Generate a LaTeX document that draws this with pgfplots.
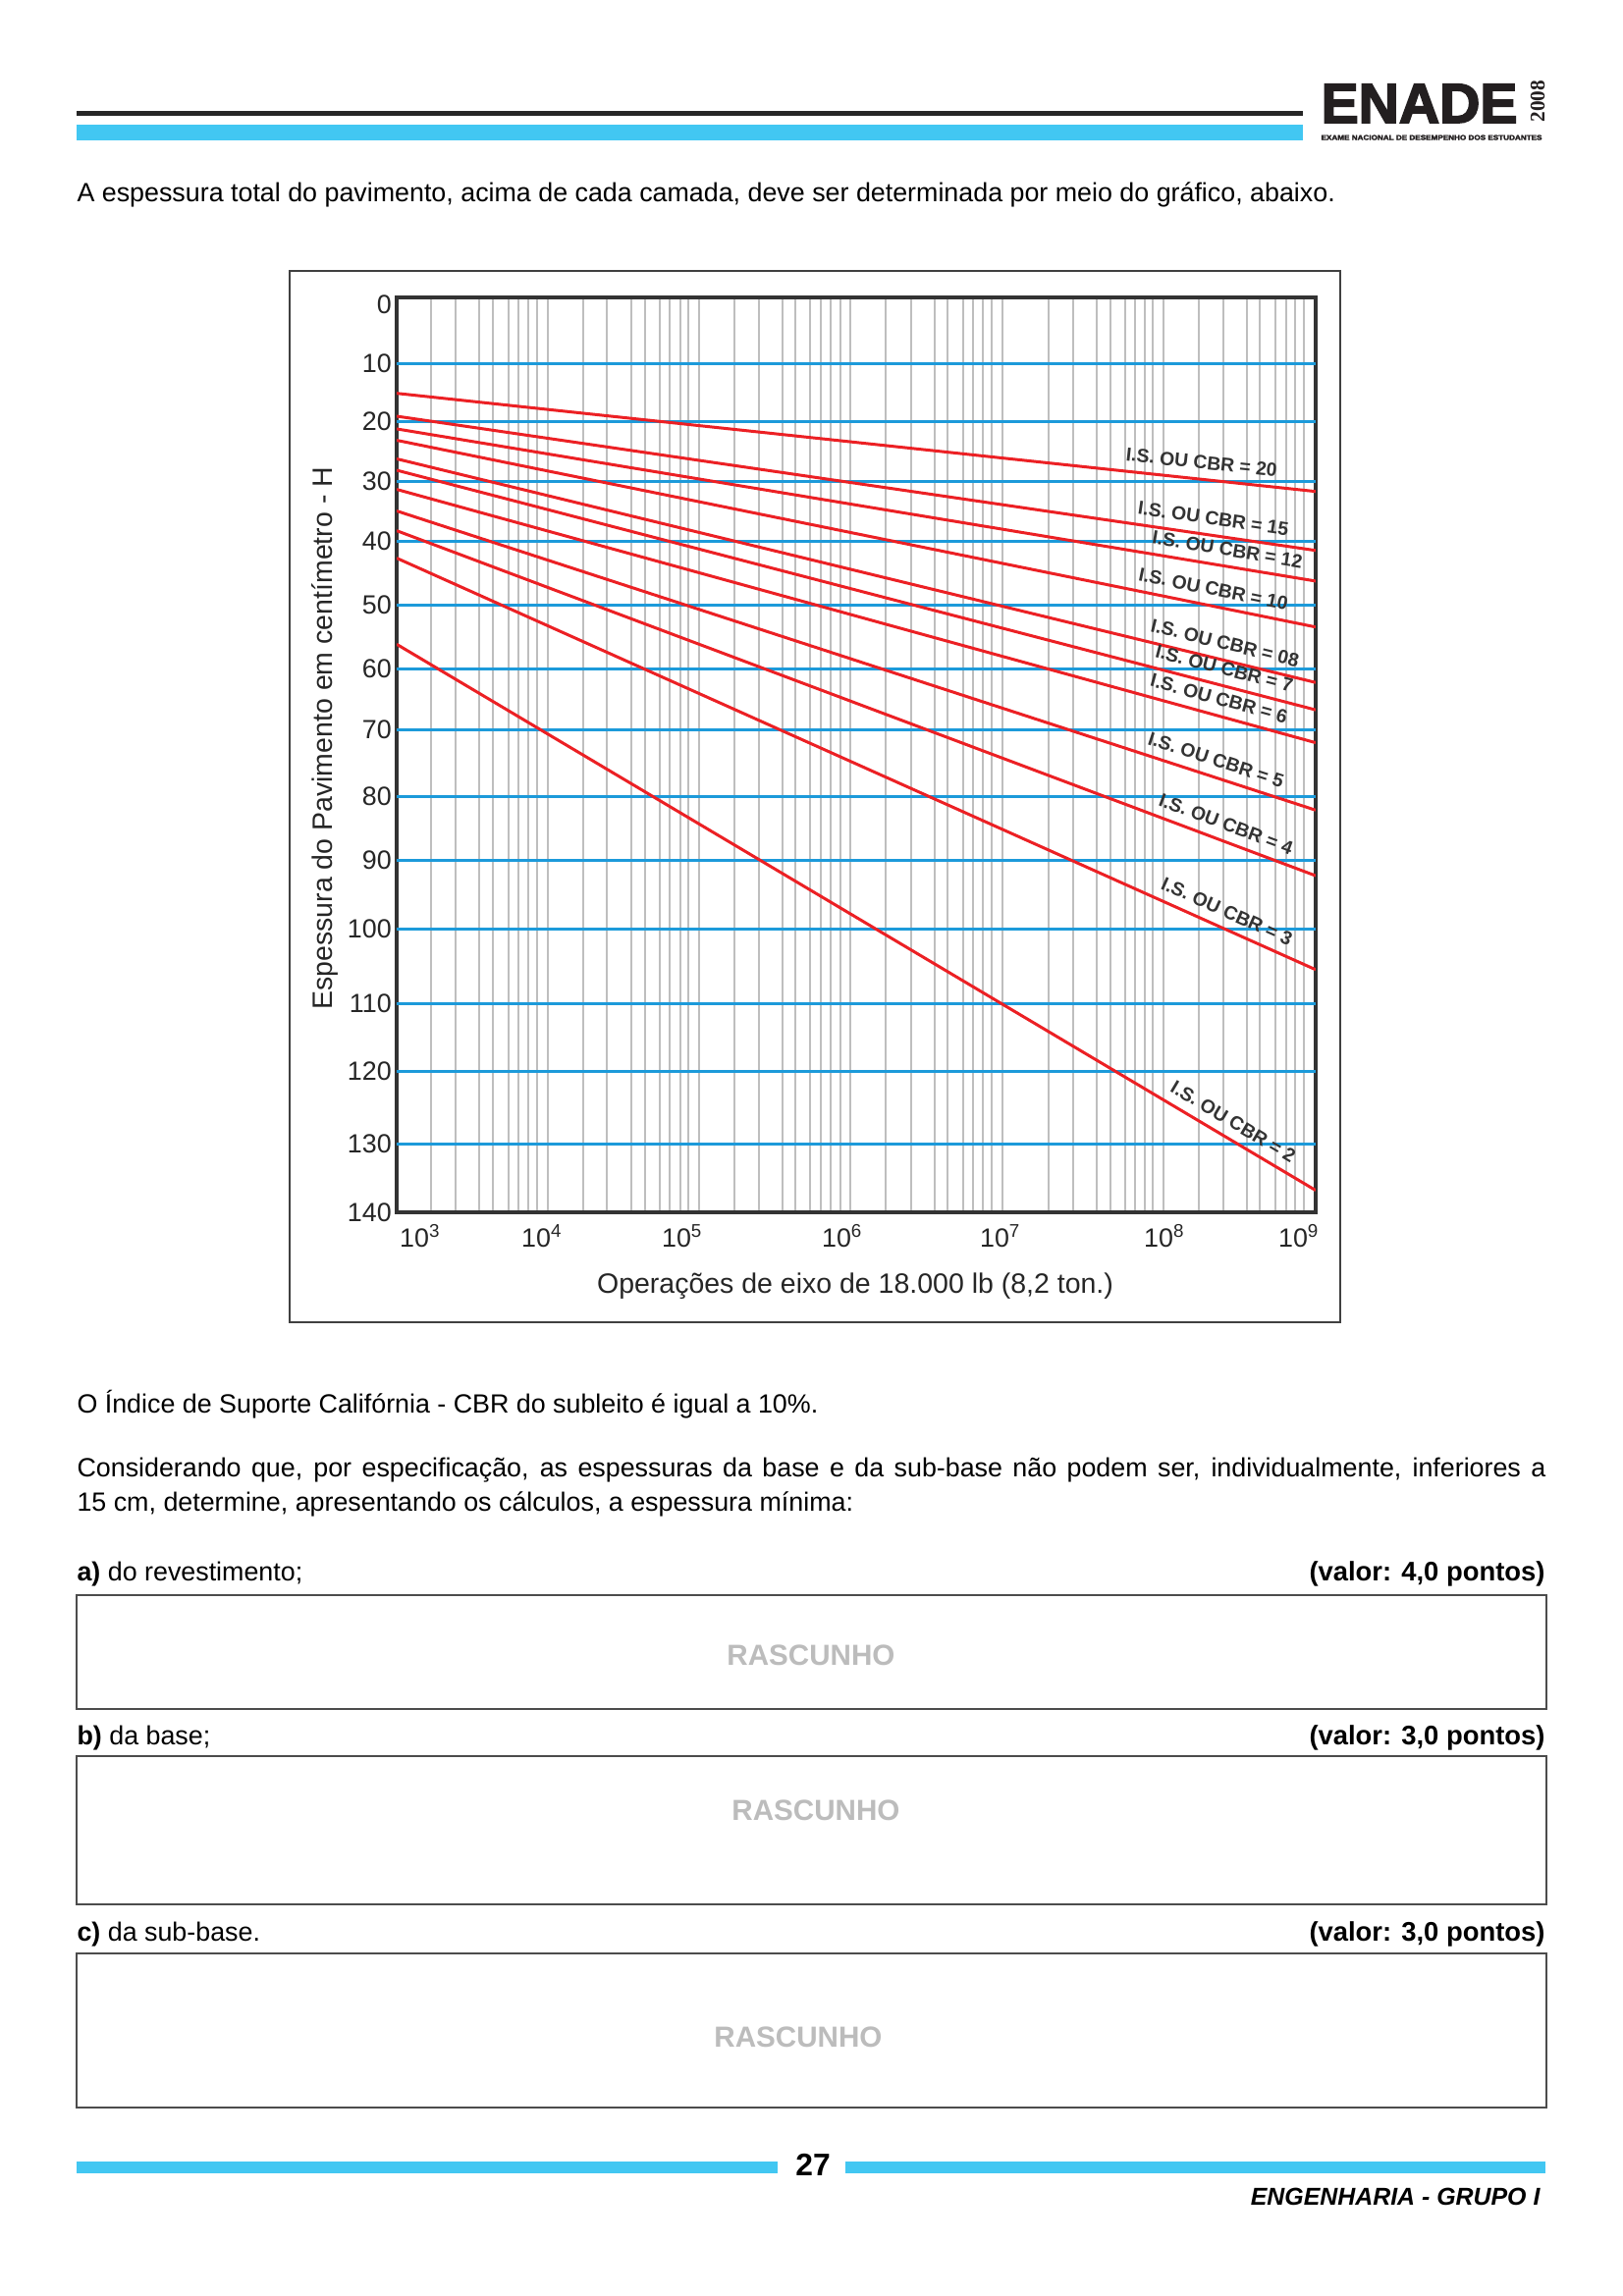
\documentclass[border=0pt]{standalone}
\usepackage{pgfplots}
\pgfplotsset{compat=1.18}
\usepackage{fontspec}
\usepackage{graphicx}
\setmainfont{Liberation Sans}
\newfontfamily\serifbf{Liberation Serif}
\newfontfamily\heavy{Liberation Sans Bold}[FakeBold=3]
\definecolor{cyanbar}{RGB}{66,199,242}
\definecolor{gridblue}{RGB}{28,154,218}
\definecolor{cbrred}{RGB}{236,32,36}
\definecolor{vgray}{RGB}{190,190,190}
\definecolor{rasc}{RGB}{188,188,188}
\definecolor{logo}{RGB}{35,31,32}
\newcommand{\fs}[1]{\fontsize{#1}{#1}\selectfont}
\tikzset{lbl/.style={sloped, above=3.2pt, inner sep=0pt, font=\fs{7}\bfseries, text=black!80},
  cbr/.style={cbrred, line width=0.38mm}}
\begin{document}
\begin{tikzpicture}
\begin{scope}[x=0.12704mm,y=-0.12704mm]
\fill[white] (0,0) rectangle (1653,2339);
% header
\fill[black!85] (78,112.5) rectangle (1327,117.5);
\fill[cyanbar] (78,127) rectangle (1327,143);
\node[anchor=base west,inner sep=0pt,text=logo] at (1345,125) {\resizebox{25.4mm}{!}{\fs{21.6}\heavy ENADE}};
\node[anchor=base west,inner sep=0pt,rotate=90,text=logo] at (1573,125) {\serifbf\fs{7.7}\bfseries 2008};
\node[anchor=north west,inner sep=0pt,text=logo] at (1345,137) {\resizebox{28.58mm}{0.64mm}{\heavy EXAME NACIONAL DE DESEMPENHO DOS ESTUDANTES}};
\node[anchor=base west,inner sep=0pt] at (78,205) {\fs{9.7}A espessura total do pavimento, acima de cada camada, deve ser determinada por meio do gráfico, abaixo.};
% chart frame
\draw[black!75,line width=0.35mm] (295,276) rectangle (1365,1347);
% text below chart
\node[anchor=base west,inner sep=0pt] at (78,1439) {\fs{9.7}O Índice de Suporte Califórnia - CBR do subleito é igual a 10\%.};
\node[anchor=base west,inner sep=0pt] at (78,1504) {\fs{9.7}\makebox[190.05mm][s]{Considerando que, por especificação, as espessuras da base e da sub-base não podem ser, individualmente, inferiores a}};
\node[anchor=base west,inner sep=0pt] at (78,1539) {\fs{9.7}15 cm, determine, apresentando os cálculos, a espessura mínima:};
\node[anchor=base west,inner sep=0pt] at (78,1610) {\fs{9.7}{\bfseries a)} do revestimento;};
\node[anchor=base east,inner sep=0pt] at (1574,1610) {\fs{9.9}\bfseries (valor: 4,0 pontos)};
\node[anchor=base west,inner sep=0pt] at (78,1777) {\fs{9.7}{\bfseries b)} da base;};
\node[anchor=base east,inner sep=0pt] at (1574,1777) {\fs{9.9}\bfseries (valor: 3,0 pontos)};
\node[anchor=base west,inner sep=0pt] at (78,1977) {\fs{9.7}{\bfseries c)} da sub-base.};
\node[anchor=base east,inner sep=0pt] at (1574,1977) {\fs{9.9}\bfseries (valor: 3,0 pontos)};
\draw[black!70,line width=0.3mm] (78,1625) rectangle (1575,1741);
\draw[black!70,line width=0.3mm] (78,1789) rectangle (1575,1940);
\draw[black!70,line width=0.3mm] (78,1990) rectangle (1575,2147);
\node[text=rasc,inner sep=0pt] at (826,1686) {\fs{10.7}\bfseries RASCUNHO};
\node[text=rasc,inner sep=0pt] at (831,1844) {\fs{10.7}\bfseries RASCUNHO};
\node[text=rasc,inner sep=0pt] at (813,2075) {\fs{10.7}\bfseries RASCUNHO};
% footer
\fill[cyanbar] (78,2202) rectangle (792,2214);
\fill[cyanbar] (861,2202) rectangle (1574,2214);
\node[inner sep=0pt] at (828,2205) {\fs{11.5}\bfseries 27};
\node[anchor=base east,inner sep=0pt] at (1569,2246) {\fs{9}\bfseries\itshape ENGENHARIA - GRUPO I};
\end{scope}
\begin{axis}[
  at={(51.324mm,-156.894mm)}, anchor=south west,
  scale only axis, width=118.909mm, height=118.401mm,
  xmin=3, xmax=9, ymin=-1.1667, ymax=140,
  y dir=reverse,
  y coord trafo/.code={\pgfmathparse{310+6*min(#1,10)+5.9*min(max(#1-10,0),10)+6.1*min(max(#1-20,0),10)+6.1*min(max(#1-30,0),10)+6.5*min(max(#1-40,0),10)+6.5*min(max(#1-50,0),10)+6.2*min(max(#1-60,0),10)+6.8*min(max(#1-70,0),10)+6.5*min(max(#1-80,0),10)+7.0*min(max(#1-90,0),10)+7.6*min(max(#1-100,0),10)+6.9*min(max(#1-110,0),10)+7.4*min(max(#1-120,0),10)+7.0*min(max(#1-130,0),10)}},
  axis line style={black!80, line width=0.42mm},
  major tick length=0pt, minor tick length=0pt,
  xtick={3.154,3.949,4.865,5.910,6.942,8.013,8.891},
  xticklabels={10\textsuperscript{3},10\textsuperscript{4},10\textsuperscript{5},10\textsuperscript{6},10\textsuperscript{7},10\textsuperscript{8},10\textsuperscript{9}},
  minor xtick={3.224,3.385,3.538,3.628,3.731,3.795,3.859,3.917,3.987,
    4.218,4.372,4.532,4.622,4.718,4.782,4.853,4.904,4.974,
    5.205,5.365,5.519,5.603,5.699,5.769,5.833,5.897,5.962,
    6.192,6.359,6.513,6.596,6.699,6.763,6.827,6.885,6.955,
    7.256,7.417,7.571,7.660,7.756,7.821,7.885,7.936,8.006,
    8.237,8.397,8.551,8.635,8.737,8.808,8.865,8.923},
  xminorgrids=true,
  minor grid style={vgray, line width=0.25mm},
  ytick={0,10,20,30,40,50,60,70,80,90,100,110,120,130,140},
  yticklabels={0,10,20,30,40,50,60,70,80,90,100,110,120,130,140},
  extra y ticks={10,20,30,40,50,60,70,80,90,100,110,120,130},
  extra y tick labels={},
  extra y tick style={grid=major, major grid style={gridblue, line width=0.38mm}},
  yticklabel style={font=\fs{9.7}, text=black!85, inner sep=0.6mm},
  xticklabel style={font=\fs{9.7}, text=black!85, inner sep=0pt, yshift=-1.5mm},
  xlabel={Operações de eixo de 18.000 lb (8,2 ton.)},
  ylabel={Espessura do Pavimento em centímetro - H},
  xlabel style={font=\fs{10.3}, text=black!85, at={(axis description cs:0.499,-0.0805)}, anchor=center},
  ylabel style={font=\fs{10.3}, text=black!85, at={(axis description cs:-0.078,0.518)}, anchor=center},
]
\addplot[cbr] coordinates {(3,15.2) (9,31.75)} node[lbl,pos=0.874] {I.S. OU CBR = 20};
\addplot[cbr] coordinates {(3,19.15) (9,41.5)} node[lbl,pos=0.886] {I.S. OU CBR = 15};
\addplot[cbr] coordinates {(3,21.3) (9,46.3)} node[lbl,pos=0.901] {I.S. OU CBR = 12};
\addplot[cbr] coordinates {(3,23.2) (9,53.5)} node[lbl,pos=0.885] {I.S. OU CBR = 10};
\addplot[cbr] coordinates {(3,26.3) (9,62.3)} node[lbl,pos=0.897] {I.S. OU CBR = 08};
\addplot[cbr] coordinates {(3,28.2) (9,66.8)} node[lbl,pos=0.896] {I.S. OU CBR = 7};
\addplot[cbr] coordinates {(3,31.4) (9,72.0)} node[lbl,pos=0.890] {I.S. OU CBR = 6};
\addplot[cbr] coordinates {(3,35.0) (9,82.2)} node[lbl,pos=0.886] {I.S. OU CBR = 5};
\addplot[cbr] coordinates {(3,38.3) (9,92.3)} node[lbl,pos=0.896] {I.S. OU CBR = 4};
\addplot[cbr] coordinates {(3,42.7) (9,105.5)} node[lbl,pos=0.896] {I.S. OU CBR = 3};
\addplot[cbr] coordinates {(3,56.2) (9,136.8)} node[lbl,pos=0.901] {I.S. OU CBR = 2};
\end{axis}
\end{tikzpicture}
\end{document}
